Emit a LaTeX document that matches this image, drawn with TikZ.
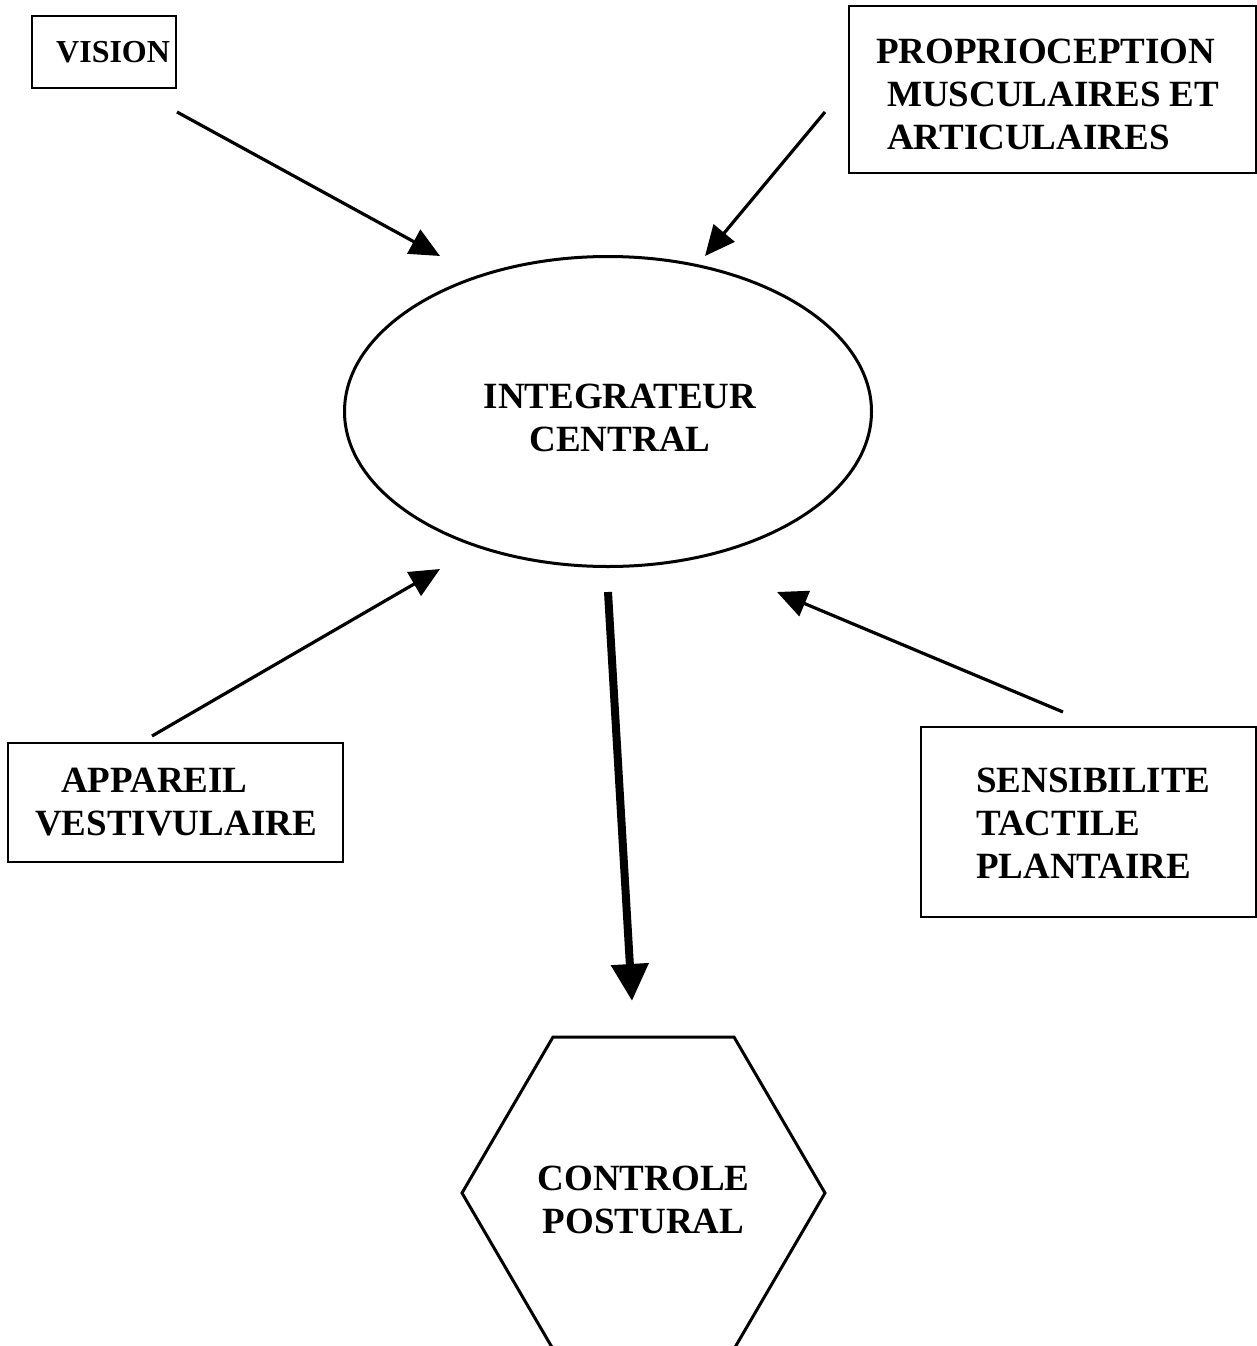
\documentclass[tikz,border=0pt]{standalone}
\usepackage{fontspec}
\setmainfont{Liberation Serif}
\usetikzlibrary{arrows.meta,shapes.geometric}
\tikzset{
  box/.style={draw, line width=1.8pt, rectangle, inner sep=0pt},
  txt/.style={inner sep=0pt, font=\fontsize{37}{43}\selectfont\bfseries},
  smalltxt/.style={inner sep=0pt, font=\fontsize{32}{37}\selectfont\bfseries},
  arr/.style={line width=3.2pt, -{Triangle[length=30pt,width=27pt]}},
  bigarr/.style={line width=8pt, -{Triangle[length=37pt,width=36pt]}},
  hexline/.style={line width=3pt, line join=miter},
}
\begin{document}
\begin{tikzpicture}[x=1pt,y=-1pt]
\useasboundingbox (0,0) rectangle (1257,1346);
\fill[white] (0,0) rectangle (1257,1346);
\begin{scope}
\clip (0,0) rectangle (1257,1346);
% boxes
\node[box, minimum width=144pt, minimum height=72pt] (visbox) at (104,52) {};
\node[smalltxt, anchor=west, align=left] (vistxt) at (56,52.4) {VISION};

\node[box, minimum width=407pt, minimum height=167pt] (probox) at (1052.5,89.5) {};
\node[txt, anchor=west, align=left] (protxt) at (876,94.75)
  {PROPRIOCEPTION\\\hspace*{11pt}MUSCULAIRES ET\\\hspace*{11pt}ARTICULAIRES};

\node[box, minimum width=335pt, minimum height=119pt] (appbox) at (175.5,802.5) {};
\node[txt, anchor=west, align=left] (apptxt) at (35,802.25)
  {\hspace*{26pt}APPAREIL\\VESTIVULAIRE};

\node[box, minimum width=335pt, minimum height=190pt] (senbox) at (1088.5,822) {};
\node[txt, anchor=west, align=left] (sentxt) at (976,822.75)
  {SENSIBILITE\\TACTILE\\PLANTAIRE};

% ellipse
\node[ellipse, draw, line width=3pt, minimum width=527pt, minimum height=310pt, inner sep=0pt] (integ) at (608,411.5) {};
\node[txt, align=center] (integtxt) at (620,417.75) {INTEGRATEUR\\CENTRAL};

% hexagon
\coordinate (h1) at (553,1037);
\coordinate (h2) at (734,1037);
\coordinate (h3) at (825,1193);
\coordinate (h4) at (734,1349);
\coordinate (h5) at (553,1349);
\coordinate (h6) at (462,1193);
\draw[hexline] (h1) -- (h2) -- (h3) -- (h4) -- (h5) -- (h6) -- cycle;
\node[txt, align=center] (hextxt) at (643.5,1199.75) {CONTROLE\\POSTURAL};

% connector ends
\coordinate (visA) at (177,112);
\coordinate (visB) at (440,256);
\coordinate (proA) at (825,112);
\coordinate (proB) at (705,256);
\coordinate (appA) at (152,736);
\coordinate (appB) at (440,569);
\coordinate (senA) at (1063,712);
\coordinate (senB) at (777,592);
\coordinate (outA) at (608,592);
\coordinate (outB) at (632,1001);

\draw[arr] (visA) -- (visB);
\draw[arr] (proA) -- (proB);
\draw[arr] (appA) -- (appB);
\draw[arr] (senA) -- (senB);
\draw[bigarr] (outA) -- (outB);
\end{scope}
\end{tikzpicture}
\end{document}
